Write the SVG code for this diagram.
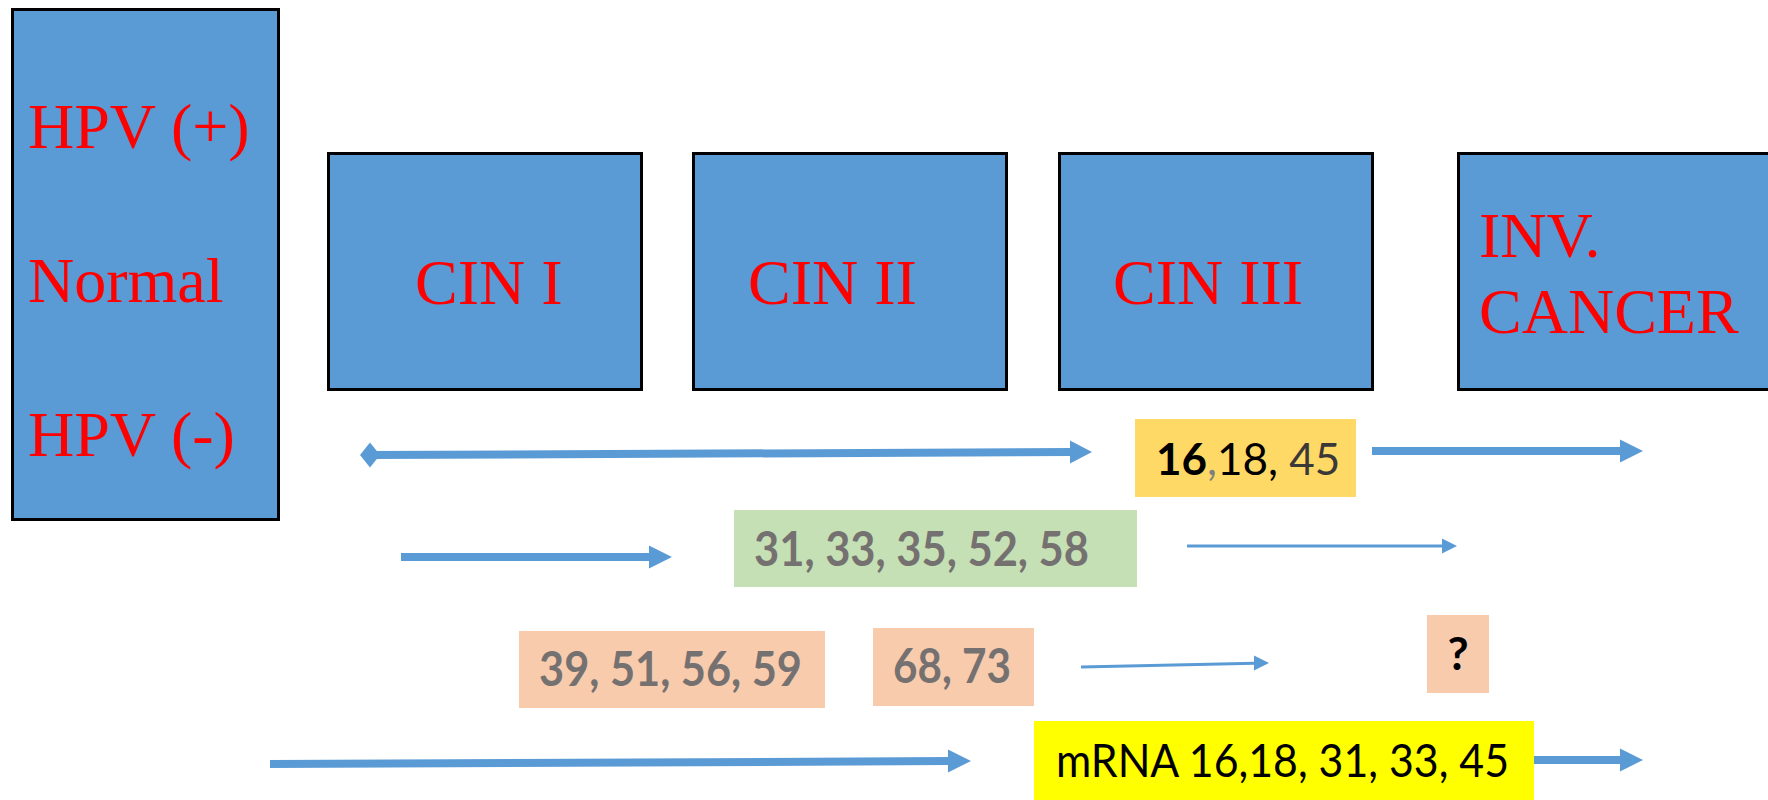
<svg xmlns="http://www.w3.org/2000/svg" width="1768" height="800" viewBox="0 0 1768 800">
  <style>
    .stage { fill: #5B9BD5; stroke: #000000; stroke-width: 3; }
    .red { font-family: "Liberation Serif", "Times New Roman", serif; font-size: 64px; fill: #FF0000; }
    .num { font-family: Lato, "Open Sans", sans-serif; font-size: 47px; font-weight: bold; fill: #767171; }
    .reg { font-family: Lato, "Open Sans", sans-serif; font-size: 47px; fill: #000000; }
    .thick { stroke: #5B9BD5; stroke-width: 8; fill: none; }
    .thin { stroke: #5B9BD5; stroke-width: 3; fill: none; }
    .head { fill: #5B9BD5; stroke: none; }
  </style>
  <rect width="1768" height="800" fill="#FFFFFF"/>

  <g id="normal">
    <rect class="stage" x="12.5" y="9.5" width="266" height="510"/>
    <text class="red" x="28" y="148">HPV (+)</text>
    <text class="red" x="28" y="302">Normal</text>
    <text class="red" x="28" y="456">HPV (-)</text>
  </g>
  <g id="cin1">
    <rect class="stage" x="328.5" y="153.5" width="313" height="236"/>
    <text class="red" x="415" y="304">CIN I</text>
  </g>
  <g id="cin2">
    <rect class="stage" x="693.5" y="153.5" width="313" height="236"/>
    <text class="red" x="748" y="304">CIN II</text>
  </g>
  <g id="cin3">
    <rect class="stage" x="1059.5" y="153.5" width="313" height="236"/>
    <text class="red" x="1113" y="304">CIN III</text>
  </g>
  <g id="cancer">
    <rect class="stage" x="1458.5" y="153.5" width="330" height="236"/>
    <text class="red" x="1479" y="257">INV.</text>
    <text class="red" x="1479" y="333">CANCER</text>
  </g>

  <g id="hr-16-18-45">
    <rect x="1135" y="419" width="221" height="78" fill="#FFD966"/>
    <text x="1156" y="475" font-family="Lato, 'Open Sans', sans-serif" font-size="44"><tspan font-weight="bold" fill="#000000">16</tspan><tspan fill="#7F7F7F">,</tspan><tspan fill="#000000">18,</tspan><tspan fill="#3B3838"> 45</tspan></text>
  </g>
  <g id="hr-31-58">
    <rect x="734" y="510" width="403" height="77" fill="#C5E0B4"/>
    <text class="num" x="754" y="566" textLength="335" lengthAdjust="spacingAndGlyphs">31, 33, 35, 52, 58</text>
  </g>
  <g id="hr-39-59">
    <rect x="519" y="631" width="306" height="77" fill="#F8CBAD"/>
    <text class="num" x="539" y="686" textLength="263" lengthAdjust="spacingAndGlyphs">39, 51, 56, 59</text>
  </g>
  <g id="hr-68-73">
    <rect x="873" y="628" width="161" height="78" fill="#F8CBAD"/>
    <text class="num" x="893" y="683" textLength="118" lengthAdjust="spacingAndGlyphs">68, 73</text>
  </g>
  <g id="unknown">
    <rect x="1427" y="615" width="62" height="78" fill="#F8CBAD"/>
    <text x="1458" y="670" text-anchor="middle" font-family="Lato, 'Open Sans', sans-serif" font-size="46" font-weight="bold" fill="#000000">?</text>
  </g>
  <g id="mrna">
    <rect x="1034" y="721" width="500" height="79" fill="#FFFF00"/>
    <text class="reg" x="1056" y="777" textLength="453" lengthAdjust="spacingAndGlyphs">mRNA 16,18, 31, 33, 45</text>
  </g>

  <g id="connectors">
    <line class="thick" x1="370" y1="455" x2="1071" y2="452.1"/>
    <polygon class="head" points="360,455 370,442.5 380,455 370,467.5"/>
    <polygon class="head" points="1070,440.5 1092,452 1070,463.5"/>

    <line class="thick" x1="1372" y1="451" x2="1621" y2="451"/>
    <polygon class="head" points="1620,439.5 1643,451 1620,462.5"/>

    <line class="thick" x1="401" y1="557" x2="650" y2="557"/>
    <polygon class="head" points="649,545.5 672,557 649,568.5"/>

    <line class="thin" x1="1187" y1="546" x2="1443" y2="546"/>
    <polygon class="head" points="1442,538.5 1457,546 1442,553.5"/>

    <line class="thin" x1="1081" y1="667" x2="1255" y2="663.3"/>
    <polygon class="head" points="1254,655.5 1269,663 1254,670.5"/>

    <line class="thick" x1="270" y1="764" x2="949" y2="761.1"/>
    <polygon class="head" points="948,749.5 971,761 948,772.5"/>

    <line class="thick" x1="1534" y1="760" x2="1621" y2="760"/>
    <polygon class="head" points="1620,748.5 1643,760 1620,771.5"/>
  </g>
</svg>
